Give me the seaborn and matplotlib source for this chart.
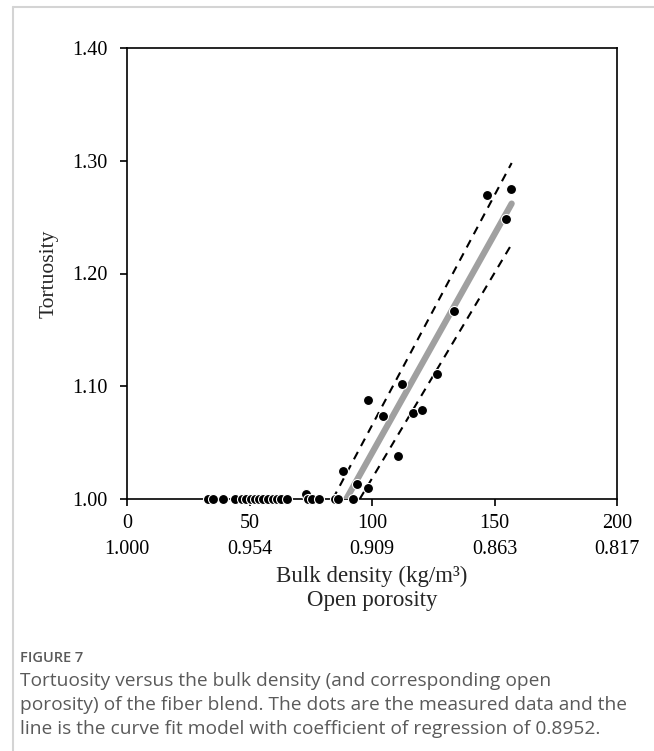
import matplotlib
matplotlib.use("Agg")
import numpy as np
import pandas as pd
import seaborn as sns
import matplotlib.pyplot as plt
from matplotlib.lines import Line2D

# ---- data ----
density_flat = [33.2, 35.2, 39.0, 44.1, 46.8, 48.6, 50.5, 52.2, 54.0, 55.6, 57.7,
                59.5, 61.1, 62.9, 65.2, 73.1, 74.0, 75.4, 78.5, 84.9, 86.3, 92.4]
tort_flat = [1.000, 1.000, 1.000, 1.000, 1.000, 1.000, 1.000, 1.000, 1.000, 1.000, 1.000,
             1.000, 1.000, 1.000, 1.000, 1.004, 1.000, 1.000, 1.000, 1.000, 1.000, 1.000]
density_rise = [88.3, 93.7, 98.5, 98.5, 104.6, 110.7, 112.2, 116.6, 120.5, 126.7,
                133.5, 146.8, 154.7, 156.6]
tort_rise = [1.025, 1.013, 1.010, 1.088, 1.074, 1.038, 1.102, 1.076, 1.079, 1.111,
             1.167, 1.270, 1.248, 1.275]

fit_density = [89.5, 157.0]
fit_tort = [1.000, 1.262]
upper_density = [84.0, 157.0]
upper_tort = [1.000, 1.298]
lower_density = [95.0, 157.0]
lower_tort = [1.000, 1.226]

density_ticks = [0, 50, 100, 150, 200]
porosity_labels = ["1.000", "0.954", "0.909", "0.863", "0.817"]
tortuosity_ticks = [1.00, 1.10, 1.20, 1.30, 1.40]

x_label = "Bulk density (kg/m\u00b3)\nOpen porosity"
y_label = "Tortuosity"
caption_head = "FIGURE 7"
caption_body = ("Tortuosity versus the bulk density (and corresponding open\n"
                "porosity) of the fiber blend. The dots are the measured data and the\n"
                "line is the curve fit model with coefficient of regression of 0.8952.")

points = pd.DataFrame({
    "density": density_flat + density_rise,
    "tortuosity": tort_flat + tort_rise,
})

# ---- style ----
sns.set_theme(style="ticks")
plt.rcParams['font.family'] = ['Liberation Serif', 'DejaVu Serif']
plt.rcParams['axes.edgecolor'] = 'black'
plt.rcParams['axes.linewidth'] = 1.2

fig = plt.figure(figsize=(6.54, 7.51), dpi=100)
ax = fig.add_axes([127 / 654, 1 - 499 / 751, 490 / 654, 451 / 751])

# lines
sns.lineplot(x=upper_density, y=upper_tort, ax=ax, color='black', linewidth=1.5,
             linestyle=(0, (4, 3.2)), sort=False, estimator=None, zorder=2)
sns.lineplot(x=lower_density, y=lower_tort, ax=ax, color='black', linewidth=1.5,
             linestyle=(0, (4, 3.2)), sort=False, estimator=None, zorder=2)
sns.lineplot(x=fit_density, y=fit_tort, ax=ax, color='#a0a0a0', linewidth=4.5,
             solid_capstyle='round', sort=False, estimator=None, zorder=3)

# points
sns.scatterplot(data=points, x="density", y="tortuosity", ax=ax, s=52,
                color='black', edgecolor='white', linewidth=0.8,
                clip_on=False, zorder=6)

ax.set_xlim(0, 200)
ax.set_ylim(1.0, 1.4)
ax.set_xticks(density_ticks)
ax.set_xticklabels([f"{d}\n{p}" for d, p in zip(density_ticks, porosity_labels)])
ax.set_yticks(tortuosity_ticks)
ax.set_yticklabels([f"{t:.2f}" for t in tortuosity_ticks])
for lab in ax.get_xticklabels():
    lab.set_linespacing(1.45)
ax.tick_params(axis='both', direction='out', length=5, width=1.2, colors='black',
               labelsize=14.5)
ax.tick_params(axis='y', pad=9)
ax.tick_params(axis='x', pad=6)
for sp in ax.spines.values():
    sp.set_visible(True)
    sp.set_color('black')
    sp.set_linewidth(1.2)

ax.set_xlabel(x_label, fontsize=16.5, linespacing=1.22, labelpad=5)
ax.set_ylabel(y_label, fontsize=15.5, labelpad=10)

# frame lines of the page
fig.add_artist(Line2D([13 / 654, 1], [1 - 7 / 751, 1 - 7 / 751],
                      transform=fig.transFigure, color='#d4d4d4', linewidth=1.5))
fig.add_artist(Line2D([13 / 654, 13 / 654], [0, 1 - 7 / 751],
                      transform=fig.transFigure, color='#d4d4d4', linewidth=1.5))

# caption
fig.text(20 / 654, 1 - 662 / 751, caption_head, family=['Open Sans', 'DejaVu Sans'],
         fontsize=10.5, fontweight='semibold', color='#5a5a5a', va='baseline')
fig.text(20 / 654, 1 - 672 / 751, caption_body, family=['Open Sans', 'DejaVu Sans'],
         fontsize=13.8, color='#5a5a5a', va='top', linespacing=1.42)

fig.savefig("out.png", dpi=100)
